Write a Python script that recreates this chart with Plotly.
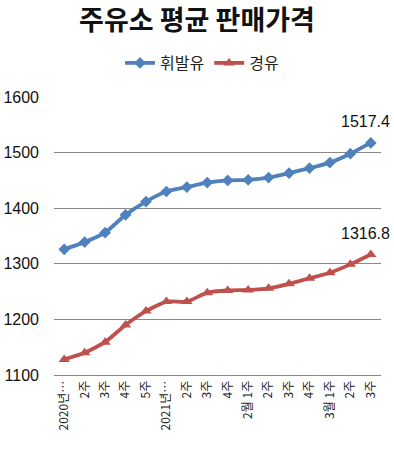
import plotly.graph_objects as go

tick_labels = ["2020년…", "2주", "3주", "4주", "5주", "2021년…", "2주", "3주", "4주",
               "2월 1주", "2주", "3주", "4주", "3월 1주", "2주", "3주"]
gasoline = [1326, 1339, 1356, 1388, 1412, 1430, 1438, 1446, 1450, 1451, 1455, 1463, 1472, 1482, 1498, 1517.4]
diesel = [1128, 1140, 1159, 1190, 1215, 1232, 1232, 1248, 1252, 1253, 1256, 1264, 1274, 1284, 1299, 1316.8]
y_ticks = [1100, 1200, 1300, 1400, 1500, 1600]

x = list(range(len(tick_labels)))
KR = "Noto Sans CJK KR"
W, H = 394, 450

fig = go.Figure()
fig.add_trace(go.Scatter(x=x, y=gasoline, name="휘발유", mode="lines+markers",
                         line=dict(color="#4F81BD", width=3.8, shape="spline", smoothing=0.5),
                         marker=dict(symbol="diamond", size=9, color="#4F81BD")))
fig.add_trace(go.Scatter(x=x, y=diesel, name="경유", mode="lines+markers",
                         line=dict(color="#C0504D", width=3.8, shape="spline", smoothing=0.5),
                         marker=dict(symbol="triangle-up", size=10, color="#C0504D")))

fig.add_annotation(x=x[-1], y=gasoline[-1], text=f"{gasoline[-1]:.1f}", showarrow=False,
                   xanchor="right", yshift=21, xshift=21,
                   font=dict(family="Liberation Sans", size=16, color="#111"))
fig.add_annotation(x=x[-1], y=diesel[-1], text=f"{diesel[-1]:.1f}", showarrow=False,
                   xanchor="right", yshift=21, xshift=21,
                   font=dict(family="Liberation Sans", size=16, color="#111"))

fig.update_layout(
    width=W, height=H,
    margin=dict(l=54, r=13, t=97, b=75, autoexpand=False),
    paper_bgcolor="white", plot_bgcolor="white",
    title=dict(text="<b>주유소 평균 판매가격</b>", x=0.5, xanchor="center",
               yref="container", y=1 - 21 / H, yanchor="middle",
               font=dict(family=KR, size=27, color="#111")),
    legend=dict(orientation="h", xref="container", x=202 / W, xanchor="center",
                yref="container", y=1 - 63 / H, yanchor="middle",
                font=dict(family=KR, size=16, color="#222"), itemwidth=30,
                bgcolor="rgba(0,0,0,0)"),
    showlegend=True,
)
fig.update_xaxes(range=[-0.5, 15.5], tickvals=x, ticktext=tick_labels, tickangle=-90,
                 showgrid=False, showline=True, linecolor="#888", linewidth=1, automargin=False,
                 ticks="", tickfont=dict(family=KR, size=12, color="#222"), zeroline=False)
fig.update_yaxes(range=[1100, 1600], tickvals=y_ticks, showgrid=True, gridcolor="#888", gridwidth=1,
                 ticks="", ticklabelstandoff=14, showline=False, zeroline=False, automargin=False,
                 tickfont=dict(family="Liberation Sans", size=16, color="#111"))

# remove the browser's default 8px body margin so the figure fills the window exactly
fig.write_html("out.html", config={"displayModeBar": False},
               post_script="document.body.style.margin='0';")
